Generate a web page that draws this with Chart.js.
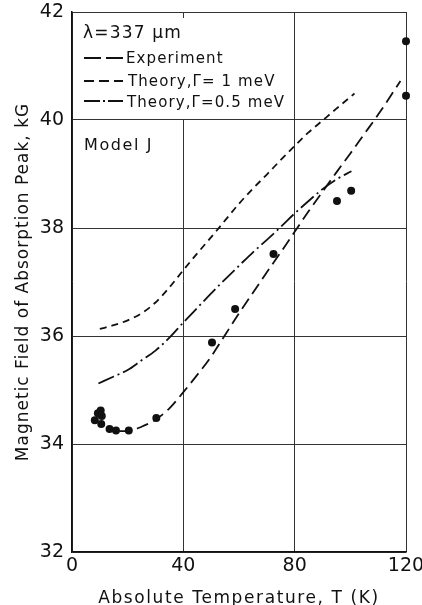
<!DOCTYPE html>
<html>
<head>
<meta charset="utf-8">
<script src="https://cdn.jsdelivr.net/npm/chart.js@4/dist/chart.umd.min.js"></script>
<style>
  html, body { margin: 0; padding: 0; background: #fff; }
  canvas { display: block; }
</style>
</head>
<body>
<canvas id="chart" width="422" height="605"></canvas>
<script>
// Measured absorption-peak fields (dots)
const measuredT     = [8.2, 9.3, 10.3, 10.7, 10.5, 13.5, 15.8, 20.4, 30.3, 50.3, 58.6, 72.4, 95.2, 100.3, 120, 120];
const measuredField = [34.44, 34.57, 34.62, 34.52, 34.37, 34.28, 34.25, 34.25, 34.48, 35.88, 36.5, 37.52, 38.5, 38.69, 41.46, 40.45];

// Smooth curve drawn through the experimental points
const experimentT     = [17, 20, 25, 30, 35, 40, 45, 50, 55, 60, 65, 70, 75, 80, 85, 90, 95, 100, 105, 110, 118];
const experimentField = [34.24, 34.24, 34.32, 34.45, 34.66, 34.96, 35.28, 35.62, 36.02, 36.42, 36.8, 37.18, 37.55, 37.93, 38.31, 38.67, 39.03, 39.38, 39.74, 40.1, 40.72];

// Theory, damping 1 meV
const theory1T     = [10, 15, 20, 25, 30, 35, 40, 45, 50, 55, 60, 65, 70, 75, 80, 85, 90, 95, 101.5];
const theory1Field = [36.13, 36.2, 36.29, 36.42, 36.62, 36.9, 37.22, 37.53, 37.83, 38.14, 38.45, 38.73, 38.99, 39.26, 39.52, 39.77, 39.99, 40.21, 40.49];

// Theory, damping 0.5 meV
const theory05T     = [9.5, 15, 20, 25, 30, 35, 40, 45, 50, 55, 60, 65, 70, 75, 80, 85, 90, 95, 100.4];
const theory05Field = [35.12, 35.25, 35.37, 35.55, 35.73, 35.97, 36.25, 36.52, 36.79, 37.05, 37.3, 37.55, 37.78, 38.02, 38.27, 38.5, 38.72, 38.9, 39.05];

// Axis ticks
const xTicks = [0, 40, 80, 120];
const yTicks = [32, 34, 36, 38, 40, 42];

const seriesLabels = ['Experiment', 'Theory,\u0393= 1 meV', 'Theory,\u0393=0.5 meV'];
const wavelengthLabel = '\u03bb=337 \u03bcm';
const modelLabel = 'Model J';
const xTitle = 'Absolute Temperature, T (K)';
const yTitle = 'Magnetic Field of Absorption Peak, kG';

const INK = '#111';
const FONT = '"DejaVu Sans", "Liberation Sans", sans-serif';

const toPoints = (xs, ys) => xs.map((x, i) => ({ x: x, y: ys[i] }));

const dashes = {
  experiment: [12, 6],
  theory1: [7, 5],
  theory05: [17, 4, 2, 4]
};

const curve = (label, xs, ys, dash) => ({
  label: label,
  data: toPoints(xs, ys),
  showLine: true,
  borderColor: INK,
  borderWidth: 1.8,
  borderDash: dash,
  pointRadius: 0,
  tension: 0.4,
  cubicInterpolationMode: 'monotone',
  fill: false
});

// Key box, wavelength note, model name and axis titles
const annotations = {
  id: 'annotations',
  beforeDatasetsDraw(chart) {
    const { ctx, chartArea } = chart;
    const xs = chart.scales.x, ys = chart.scales.y;
    // clear the key area so the 40 K grid line stops at the 40 kG line
    ctx.save();
    ctx.fillStyle = '#fff';
    const x0 = chartArea.left + 2;
    const x1 = xs.getPixelForValue(78);
    const y0 = chartArea.top + 6;
    const y1 = ys.getPixelForValue(40) - 1;
    ctx.fillRect(x0, y0, x1 - x0, y1 - y0);
    ctx.restore();
  },
  afterDraw(chart) {
    const { ctx, chartArea } = chart;
    ctx.save();
    ctx.fillStyle = INK;
    ctx.strokeStyle = INK;
    ctx.textBaseline = 'alphabetic';
    ctx.textAlign = 'left';

    const left = chartArea.left;
    ctx.font = '17px ' + FONT;
    ctx.letterSpacing = '1.2px';
    ctx.fillText(wavelengthLabel, left + 11, 38);

    // key rows
    const rows = [
      { dash: [17, 5], y: 58, text: seriesLabels[0], tx: 126, ty: 63 },
      { dash: [10, 5], y: 81, text: seriesLabels[1], tx: 128, ty: 86 },
      { dash: [16, 3, 2, 3], y: 101, text: seriesLabels[2], tx: 127, ty: 107 }
    ];
    ctx.font = '15px ' + FONT;
    ctx.letterSpacing = '1.1px';
    rows.forEach(r => {
      ctx.beginPath();
      ctx.lineWidth = 1.8;
      ctx.setLineDash(r.dash);
      ctx.moveTo(left + 12, r.y);
      ctx.lineTo(left + 51, r.y);
      ctx.stroke();
      ctx.setLineDash([]);
      ctx.fillText(r.text, r.tx, r.ty);
    });

    ctx.font = '16px ' + FONT;
    ctx.letterSpacing = '1.6px';
    ctx.fillText(modelLabel, left + 12, 150);

    // axis titles
    ctx.font = '17px ' + FONT;
    ctx.textAlign = 'center';
    ctx.letterSpacing = '1.6px';
    ctx.fillText(xTitle, (chartArea.left + chartArea.right) / 2, 603);

    ctx.letterSpacing = '1px';
    ctx.translate(28, (chartArea.top + chartArea.bottom) / 2);
    ctx.rotate(-Math.PI / 2);
    ctx.fillText(yTitle, 0, 0);
    ctx.restore();
  }
};

new Chart(document.getElementById('chart').getContext('2d'), {
  type: 'scatter',
  data: {
    datasets: [
      curve(seriesLabels[0], experimentT, experimentField, dashes.experiment),
      curve(seriesLabels[1], theory1T, theory1Field, dashes.theory1),
      curve(seriesLabels[2], theory05T, theory05Field, dashes.theory05),
      {
        label: 'Measured',
        data: toPoints(measuredT, measuredField),
        showLine: false,
        pointRadius: 4,
        pointBackgroundColor: INK,
        pointBorderWidth: 0,
        clip: false
      }
    ]
  },
  options: {
    responsive: false,
    animation: false,
    devicePixelRatio: 1,
    layout: { padding: { left: 0, right: 16, top: 12, bottom: 0 } },
    plugins: { legend: { display: false }, tooltip: { enabled: false } },
    scales: {
      x: {
        type: 'linear',
        min: 0,
        max: 120,
        afterBuildTicks: s => { s.ticks = xTicks.map(v => ({ value: v })); },
        afterFit: s => { s.height = 53; s.paddingLeft = 0; s.paddingRight = 0; },
        grid: { color: '#333', lineWidth: 1, drawTicks: false },
        border: { color: INK, width: 1.5 },
        ticks: { font: { family: FONT, size: 19 }, color: INK, padding: 3 }
      },
      y: {
        type: 'linear',
        min: 32,
        max: 42,
        afterBuildTicks: s => { s.ticks = yTicks.map(v => ({ value: v })); },
        afterFit: s => { s.width = 72; s.paddingTop = 0; s.paddingBottom = 0; },
        grid: { color: '#333', lineWidth: 1, drawTicks: false },
        border: { color: INK, width: 1.5 },
        ticks: { font: { family: FONT, size: 19 }, color: INK, padding: 8 }
      }
    }
  },
  plugins: [annotations]
});
</script>
</body>
</html>
